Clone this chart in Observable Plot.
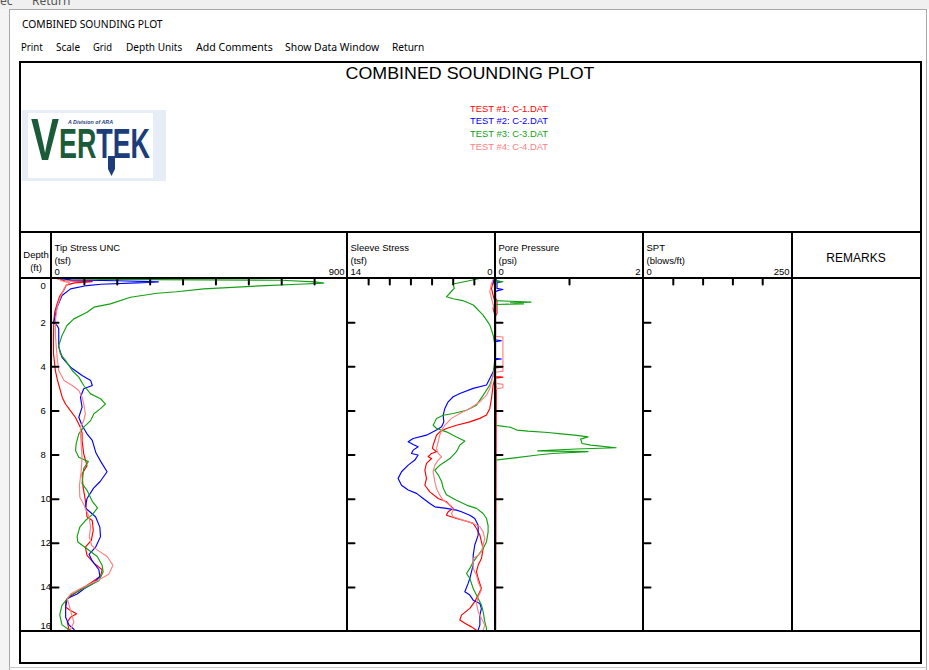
<!DOCTYPE html>
<html><head><meta charset="utf-8">
<script src="https://cdn.jsdelivr.net/npm/d3@7"></script>
<script src="https://cdn.jsdelivr.net/npm/@observablehq/plot@0.6"></script>
<style>
html,body{margin:0;padding:0;}
body{width:929px;height:670px;position:relative;overflow:hidden;background:#fff;}
</style></head><body>
<script>
// ---------- DATA ----------
const seriesNames = ["TEST #1: C-1.DAT","TEST #2: C-2.DAT","TEST #3: C-3.DAT","TEST #4: C-4.DAT"];
const seriesColors = ["#ff0000","#0000ff","#12a012","#ff8080"];
const columnTitles = ["Tip Stress UNC","Sleeve Stress","Pore Pressure","SPT"];
const columnUnits = ["(tsf)","(tsf)","(psi)","(blows/ft)"];
const columnDomains = [[0,900],[14,0],[0,2],[0,250]];
const columnTicks = [[100,200,300,400,500,600,700,800],[12,10,8,6,4,2],[1],[50,100,150,200]];
const depthTickValues = [0,2,4,6,8,10,12,14,16];
const menuItems = ["Print","Scale","Grid","Depth Units","Add Comments","Show Data Window","Return"];

// [depth (ft), value]
const tipC1 = [[0,15],[0.1,40],[0.14,124],[0.2,70],[0.3,45],[0.54,37],[0.8,25],[1.15,17],[1.5,10],[1.9,7],[2.6,6],[3.4,6],[4.2,12],[4.6,18],[5.08,27],[5.4,33],[5.7,43],[6.0,58],[6.3,73],[6.75,88],[7.0,93],[7.34,93],[7.95,98],[8.48,108],[8.86,93],[9.46,96],[10.06,103],[10.8,108],[10.97,124],[11.42,127],[11.87,121],[12.18,103],[12.55,108],[12.9,129],[13.2,154],[13.5,149],[13.8,119],[14.1,88],[14.4,58],[14.6,43],[14.9,43],[15.05,58],[15.2,76],[15.35,58],[15.58,48],[15.9,53],[16,60]];
const tipC2 = [[0,20],[0.06,60],[0.1,200],[0.15,325],[0.2,260],[0.26,150],[0.32,108],[0.47,58],[0.77,32],[1.3,17],[2.0,7],[2.15,18],[2.28,22],[3.1,22],[3.57,32],[4.02,58],[4.4,93],[4.62,119],[4.85,124],[5.0,98],[5.38,88],[5.83,93],[6.29,83],[6.66,93],[7.04,108],[7.34,124],[7.9,135],[8.3,150],[8.76,169],[9.2,148],[9.5,128],[9.97,108],[10.4,103],[10.8,134],[11.27,147],[11.7,149],[12.18,134],[12.5,114],[12.8,124],[13.2,144],[13.5,147],[13.8,129],[14.05,100],[14.3,78],[14.5,48],[14.9,43],[15.35,43],[15.7,53],[15.9,68],[16,72]];
const tipC3 = [[0,30],[0.04,150],[0.08,700],[0.15,800],[0.21,828],[0.26,750],[0.32,650],[0.47,463],[0.6,380],[0.67,321],[0.85,240],[1.15,179],[1.3,129],[1.53,108],[1.83,68],[2.13,47],[2.58,32],[3.04,22],[3.42,27],[3.72,43],[4.17,63],[4.47,83],[4.85,98],[5.23,119],[5.45,149],[5.68,164],[5.9,149],[6.13,129],[6.44,119],[6.74,98],[7.04,83],[7.5,75],[7.8,73],[8.1,83],[8.3,112],[8.6,98],[9.3,93],[9.6,108],[10.1,124],[10.4,140],[10.7,124],[10.97,103],[11.27,86],[11.7,78],[11.94,80],[12.25,108],[12.6,139],[13.0,154],[13.3,157],[13.7,144],[14.05,98],[14.35,58],[14.8,32],[15.25,25],[15.7,32],[15.86,48],[16,55]];
const tipC4 = [[0,20],[0.1,30],[0.2,55],[0.4,40],[0.85,27],[1.3,17],[1.9,12],[2.6,12],[3.57,17],[4.17,22],[4.62,38],[4.85,63],[5.08,83],[5.38,93],[5.68,98],[6.13,103],[6.44,98],[6.74,88],[7.04,88],[7.5,90],[8.1,93],[8.76,90],[9.37,85],[9.9,86],[10.3,100],[10.8,114],[11.27,119],[11.7,115],[12.1,122],[12.3,139],[12.6,169],[13.0,187],[13.4,174],[13.7,139],[14.05,88],[14.3,58],[14.5,48],[15.05,58],[15.58,68],[15.9,58],[16,60]];

const sleeveC1 = [[0,0.1],[0.15,0.22],[0.45,0.38],[0.76,0.22],[1.06,0.06],[1.36,0.22],[1.66,0.06],[4.53,0.06],[4.83,0.22],[5.44,0.38],[5.89,0.54],[6.19,0.85],[6.34,1.48],[6.5,2.43],[6.65,3.69],[6.8,4.64],[6.95,5.27],[7.1,5.58],[7.33,5.74],[7.55,5.9],[7.7,5.96],[7.85,5.58],[7.93,6.05],[8.08,6.37],[8.16,6.05],[8.38,6.53],[8.69,6.68],[9.06,6.53],[9.37,6.68],[9.67,6.21],[9.97,5.42],[10.12,4.64],[10.27,4.32],[10.42,4.0],[10.57,4.48],[10.73,4.64],[10.88,3.69],[11.0,2.74],[11.1,2.11],[11.33,1.8],[11.63,1.48],[11.93,1.33],[12.24,1.17],[12.69,1.33],[12.99,1.64],[13.29,1.8],[13.6,1.64],[14.05,1.33],[14.35,1.64],[14.65,1.96],[14.95,2.43],[15.26,3.22],[15.48,3.37],[15.63,2.9],[15.79,2.27],[15.94,1.8],[16,1.7]];
const sleeveC2 = [[0,0.1],[0.08,0.22],[0.3,0.1],[0.9,0.06],[3.93,0.06],[4.23,0.22],[4.53,0.54],[4.83,0.85],[4.98,2.11],[5.21,3.37],[5.36,4.0],[5.59,4.48],[5.89,4.79],[6.19,4.95],[6.5,4.89],[6.72,5.1],[6.87,5.58],[7.1,6.53],[7.25,7.79],[7.4,8.26],[7.52,7.79],[7.63,7.32],[7.78,7.79],[7.93,7.95],[8.0,7.32],[8.23,7.63],[8.46,8.26],[8.76,8.89],[9.06,9.21],[9.37,8.89],[9.59,8.26],[9.74,7.47],[9.97,6.84],[10.2,6.21],[10.35,5.74],[10.42,4.64],[10.5,3.69],[10.57,3.22],[10.73,2.43],[10.88,1.96],[11.18,1.64],[11.63,1.64],[12.08,1.96],[12.54,2.11],[12.99,2.11],[13.29,2.27],[13.6,2.43],[13.82,2.59],[14.2,2.9],[14.35,2.43],[14.58,2.11],[14.73,1.48],[14.95,1.33],[15.26,1.48],[15.71,1.48],[15.94,1.64],[16,1.6]];
const sleeveC3 = [[0,1.5],[0.1,2.5],[0.25,4.0],[0.45,3.9],[0.6,4.2],[0.83,4.64],[0.92,4.0],[1.0,3.1],[1.2,2.1],[1.66,1.17],[2.1,0.54],[2.57,0.22],[3.0,0.06],[3.6,0.06],[4.4,0.22],[4.83,0.54],[5.3,1.17],[5.74,1.8],[5.97,2.74],[6.12,4.0],[6.2,4.95],[6.35,5.58],[6.65,5.9],[6.8,5.58],[6.95,4.64],[7.18,3.69],[7.37,2.9],[7.55,3.37],[7.85,3.69],[8.16,4.32],[8.46,5.27],[8.69,5.74],[8.9,5.42],[9.2,5.1],[9.5,4.95],[9.8,4.64],[10.05,3.69],[10.27,2.74],[10.42,1.8],[10.65,1.17],[10.88,0.85],[11.2,0.7],[11.5,0.7],[11.93,0.85],[12.24,1.17],[12.54,1.64],[12.84,2.11],[13.14,2.43],[13.37,2.74],[13.6,2.43],[14.05,2.11],[14.5,1.64],[14.8,1.33],[15.1,1.17],[15.56,1.01],[15.86,0.85],[16,0.85]];
const sleeveC4 = [[0,0.2],[0.23,0.38],[0.6,0.54],[0.9,0.38],[1.2,0.22],[1.5,0.06],[4.08,0.06],[4.38,0.22],[4.98,0.54],[5.29,0.85],[5.59,1.48],[5.89,2.43],[6.12,3.37],[6.34,4.16],[6.65,4.79],[6.87,5.1],[7.1,5.27],[7.4,5.42],[7.7,5.58],[7.93,5.42],[8.08,5.1],[8.23,5.42],[8.46,5.74],[8.76,5.9],[9.21,5.74],[9.52,5.58],[9.82,5.27],[10.05,4.95],[10.27,4.32],[10.5,4.0],[10.65,4.16],[10.8,4.0],[10.95,3.06],[11.1,2.11],[11.25,1.48],[11.48,1.17],[11.78,1.01],[12.08,1.17],[12.39,1.33],[12.54,1.64],[12.69,2.11],[13.14,2.11],[13.44,1.8],[13.75,1.64],[14.12,1.33],[14.43,1.64],[14.73,1.8],[15.1,1.64],[15.41,1.33],[15.71,1.01],[15.94,1.17],[16,1.15]];

const poreC1 = [[0,0],[0.9,0],[1.0,0.02],[1.6,0.02],[1.7,0],[4.0,0],[4.02,0.08],[4.05,0],[4.45,0],[4.47,0.1],[4.52,0],[5.1,0.01],[5.4,0.01],[16,0]];
const poreC2 = [[0,0],[0.1,0.02],[0.15,0.08],[0.2,0.02],[0.45,0.02],[0.5,0.1],[0.55,0.03],[0.6,0],[2.78,0],[2.82,0.08],[2.86,0],[3.62,0],[3.65,0.08],[3.68,0],[16,0]];
const poreC3 = [[0,0],[0.12,0],[0.14,0.1],[0.17,0],[1.0,0],[1.03,0.2],[1.07,0.48],[1.1,0.2],[1.15,0.38],[1.18,0],[6.65,0],[6.69,0.08],[6.75,0.21],[6.87,0.29],[6.92,0.44],[6.98,0.71],[7.04,0.89],[7.1,1.07],[7.18,1.25],[7.28,1.15],[7.48,1.17],[7.55,1.29],[7.67,1.63],[7.73,1.09],[7.81,0.57],[7.85,1.25],[7.93,0.77],[8.0,0.57],[8.13,0.26],[8.23,0],[16,0]];
const poreC4 = [[0,0],[2.62,0],[2.65,0.1],[4.2,0.1],[4.25,0],[4.75,0],[4.8,0.1],[4.95,0.1],[5.0,0],[16,0]];
const sptData = [];

// ---------- LAYOUT ----------
const LIB = '"Liberation Sans", Arial, sans-serif';
const UI = '"Noto Sans", "Open Sans", sans-serif';
const body = document.body;

function addBox(left, top, width, height, bg, extra) {
  const el = document.createElement("div");
  el.style.cssText = `position:absolute;left:${left}px;top:${top}px;width:${width}px;height:${height}px;background:${bg};${extra||""}`;
  body.appendChild(el);
  return el;
}
function addText(str, x, y, o = {}) {
  const el = document.createElement("div");
  el.textContent = str;
  el.style.cssText = `position:absolute;left:${x}px;top:${y}px;font-size:${o.size||9.5}px;color:${o.color||"#000"};font-family:${o.family||LIB};white-space:nowrap;line-height:1;font-weight:${o.weight||"normal"};font-style:${o.style||"normal"};transform-origin:0 0;`;
  body.appendChild(el);
  const w = el.getBoundingClientRect().width;
  const sx = o.width ? o.width / w : 1;
  const tx = o.anchor === "middle" ? -w * sx / 2 : o.anchor === "end" ? -w * sx : 0;
  el.style.transform = `translate(${tx}px,-50%) scaleX(${sx})`;
  return el;
}

// window chrome
addBox(0, 0, 929, 9, "#f0f0f0");
addText("ec", 0, 1, {size: 12, family: UI, color: "#555"});
addText("Return", 32, 1, {size: 12, family: UI, color: "#555"});
addBox(0, 9, 9, 661, "#f4f4f4");
addBox(9, 9, 1, 661, "#a8a8a8");
addBox(9, 9, 918, 1, "#a8a8a8");
addBox(926, 9, 1, 661, "#a8a8a8");
addBox(9, 667, 918, 1, "#c8c8c8");
addText("COMBINED SOUNDING PLOT", 21.7, 24, {size: 11.5, family: UI, width: 140.6});
const menuX = [20.7, 56, 92.7, 126, 195.7, 285, 391.7];
const menuW = [21.7, 24, 19, 56.3, 76.7, 94.3, 32.3];
menuItems.forEach((m, i) => addText(m, menuX[i], 47.3, {size: 11.5, family: UI, width: menuW[i]}));

// chart title + legend
addText("COMBINED SOUNDING PLOT", 470, 72.5, {size: 17, anchor: "middle", width: 249});
const legendY = [108.5, 121, 133.7, 146.5];
seriesNames.forEach((s, i) => addText(s, 509, legendY[i], {size: 9.5, anchor: "middle", color: seriesColors[i], width: 78}));

// logo
addBox(22, 110, 144, 71, "#e7edf7");
addBox(28, 113, 125, 65, "#ffffff");
addText("A Division of ARA", 68, 121.5, {size: 5, style: "italic", weight: "bold", color: "#1f3f7a", width: 45});
(function(){
  const v = document.createElement("div");
  v.textContent = "V";
  v.style.cssText = `position:absolute;left:31px;top:${160-0.7065*60}px;font:bold 60px ${LIB};line-height:0.72;color:#1c5b3a;transform-origin:0 0;transform:scaleX(0.7);`;
  body.appendChild(v);
  const g = document.createElement("div");
  g.innerHTML = '<span style="color:#1c5b3a">ER</span><span style="color:#1d3d7a">TEK</span>';
  g.style.cssText = `position:absolute;left:59px;top:${158.5-0.7065*42}px;font:bold 42px ${LIB};line-height:0.72;white-space:nowrap;transform-origin:0 0;`;
  body.appendChild(g);
  const w = g.getBoundingClientRect().width;
  g.style.transform = `scaleX(${91 / w})`;
  addBox(108, 156, 7, 20, "#1d3d7a", "clip-path:polygon(0 0,100% 0,100% 65%,50% 100%,0 65%);");
})();

// ---------- PLOT PANELS ----------
const tickShape = {draw(context, l) { context.moveTo(0, 0); context.lineTo(0, -l); }};
const depthInner = depthTickValues.filter(d => d > 0 && d < 16);
const panelLefts = [51, 347, 495, 643];
const panelWidths = [296, 148, 148, 149];
const curvesByPanel = [[tipC1, tipC2, tipC3, tipC4], [sleeveC1, sleeveC2, sleeveC3, sleeveC4], [poreC1, poreC2, poreC3, poreC4], [sptData]];
const HEAD = 46, PH = 353;
const txt = {fontSize: 9.5, fontFamily: LIB, fill: "#000", lineAnchor: "middle"};

function place(svg, left) {
  svg.style.position = "absolute";
  svg.style.left = left + "px";
  svg.style.top = "232px";
  svg.style.overflow = "visible";
  svg.style.background = "none";
  body.appendChild(svg);
}

columnTitles.forEach((title, i) => {
  const W = panelWidths[i];
  const marks = [];
  curvesByPanel[i].forEach((data, k) => {
    if (data.length) marks.push(Plot.line(data, {x: d => d[1], y: d => d[0], stroke: seriesColors[k], strokeWidth: 1.15}));
  });
  marks.push(Plot.vector(columnTicks[i], {x: d => d, frameAnchor: "top", rotate: 180, length: 6, anchor: "start", shape: tickShape, stroke: "#000", strokeWidth: 2}));
  marks.push(Plot.vector(depthInner, {y: d => d, frameAnchor: "left", rotate: 90, length: 7, anchor: "start", shape: tickShape, stroke: "#000", strokeWidth: 2}));
  marks.push(Plot.text([title], {frameAnchor: "top-left", dx: 3, dy: -31, textAnchor: "start", text: d => d, ...txt}));
  marks.push(Plot.text([columnUnits[i]], {frameAnchor: "top-left", dx: 3, dy: -17.5, textAnchor: "start", text: d => d, ...txt}));
  marks.push(Plot.text([columnDomains[i][0]], {x: d => d, frameAnchor: "top", dx: 3, dy: -6.5, textAnchor: "start", text: d => String(d), ...txt}));
  marks.push(Plot.text([columnDomains[i][1]], {x: d => d, frameAnchor: "top", dx: -3, dy: -6.5, textAnchor: "end", text: d => String(d), ...txt}));
  const svg = Plot.plot({
    width: W, height: HEAD + PH,
    marginTop: HEAD, marginLeft: 0, marginRight: 0, marginBottom: 0,
    x: {domain: columnDomains[i], range: [0, W], axis: null},
    y: {domain: [0, 16], range: [HEAD, HEAD + PH], axis: null},
    style: {background: "none", overflow: "visible"},
    marks
  });
  place(svg, panelLefts[i]);
});

// depth column
const depthSvg = Plot.plot({
  width: 31, height: HEAD + PH,
  marginTop: HEAD, marginLeft: 0, marginRight: 0, marginBottom: 0,
  y: {domain: [0, 16], range: [HEAD, HEAD + PH], axis: null},
  style: {background: "none", overflow: "visible"},
  marks: [
    Plot.text(["Depth"], {frameAnchor: "top", dy: -24, text: d => d, ...txt}),
    Plot.text(["(ft)"], {frameAnchor: "top", dy: -11, text: d => d, ...txt}),
    Plot.text(depthInner, {y: d => d, frameAnchor: "left", dx: 20, text: d => String(d), ...txt}),
    Plot.text([depthTickValues[0]], {y: d => d, frameAnchor: "left", dx: 20, dy: 7, text: d => String(d), ...txt}),
    Plot.text([depthTickValues[depthTickValues.length - 1]], {y: d => d, frameAnchor: "left", dx: 20, dy: -6, text: d => String(d), ...txt})
  ]
});
place(depthSvg, 20);

addText("REMARKS", 856, 257.5, {size: 12, anchor: "middle"});

// frame lines
const hLines = [62, 232, 278, 631, 663];
hLines.forEach(y => addBox(19, y - 1, 903, 2, "#000"));
[20, 920.5].forEach(x => addBox(x - 1, 61, 2, 603, "#000"));
[51, 347, 495, 643, 792].forEach(x => addBox(x - 1, 231, 2, 401, "#000"));
</script>
</body></html>
